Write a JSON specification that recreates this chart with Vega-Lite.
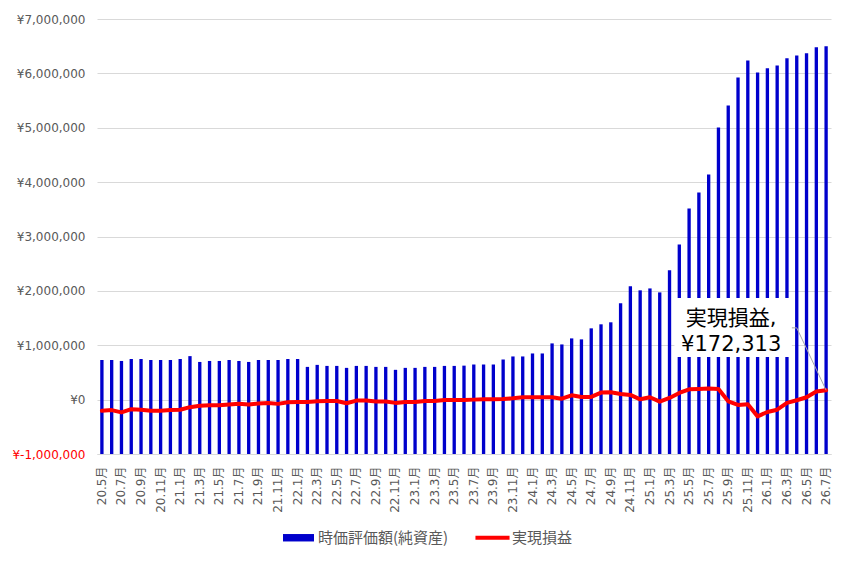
{
  "$schema": "https://vega.github.io/schema/vega-lite/v6.json",
  "description": "時価評価額(純資産)と実現損益の推移",
  "width": 734,
  "height": 435,
  "autosize": {"type": "none"},
  "padding": {"left": 97, "top": 19, "right": 19, "bottom": 109},
  "background": "white",
  "data": {
    "values": [
      {"m": "20.5月", "a": 729000, "r": -205000},
      {"m": "20.6月", "a": 729000, "r": -193000},
      {"m": "20.7月", "a": 711000, "r": -235000},
      {"m": "20.8月", "a": 747000, "r": -175000},
      {"m": "20.9月", "a": 747000, "r": -187000},
      {"m": "20.10月", "a": 729000, "r": -205000},
      {"m": "20.11月", "a": 729000, "r": -205000},
      {"m": "20.12月", "a": 729000, "r": -193000},
      {"m": "21.1月", "a": 747000, "r": -187000},
      {"m": "21.2月", "a": 800000, "r": -139000},
      {"m": "21.3月", "a": 693000, "r": -114000},
      {"m": "21.4月", "a": 711000, "r": -102000},
      {"m": "21.5月", "a": 711000, "r": -102000},
      {"m": "21.6月", "a": 729000, "r": -90000},
      {"m": "21.7月", "a": 711000, "r": -78000},
      {"m": "21.8月", "a": 693000, "r": -90000},
      {"m": "21.9月", "a": 729000, "r": -72000},
      {"m": "21.10月", "a": 729000, "r": -60000},
      {"m": "21.11月", "a": 729000, "r": -78000},
      {"m": "21.12月", "a": 747000, "r": -48000},
      {"m": "22.1月", "a": 747000, "r": -42000},
      {"m": "22.2月", "a": 602000, "r": -42000},
      {"m": "22.3月", "a": 639000, "r": -30000},
      {"m": "22.4月", "a": 620000, "r": -24000},
      {"m": "22.5月", "a": 620000, "r": -24000},
      {"m": "22.6月", "a": 584000, "r": -66000},
      {"m": "22.7月", "a": 620000, "r": -18000},
      {"m": "22.8月", "a": 620000, "r": -18000},
      {"m": "22.9月", "a": 602000, "r": -36000},
      {"m": "22.10月", "a": 602000, "r": -36000},
      {"m": "22.11月", "a": 548000, "r": -60000},
      {"m": "22.12月", "a": 584000, "r": -42000},
      {"m": "23.1月", "a": 584000, "r": -42000},
      {"m": "23.2月", "a": 602000, "r": -24000},
      {"m": "23.3月", "a": 602000, "r": -24000},
      {"m": "23.4月", "a": 620000, "r": -6000},
      {"m": "23.5月", "a": 620000, "r": -6000},
      {"m": "23.6月", "a": 625000, "r": -6000},
      {"m": "23.7月", "a": 646000, "r": 0},
      {"m": "23.8月", "a": 646000, "r": 6000},
      {"m": "23.9月", "a": 646000, "r": 6000},
      {"m": "23.10月", "a": 738000, "r": 12000},
      {"m": "23.11月", "a": 794000, "r": 25000},
      {"m": "23.12月", "a": 794000, "r": 43000},
      {"m": "24.1月", "a": 849000, "r": 43000},
      {"m": "24.2月", "a": 849000, "r": 43000},
      {"m": "24.3月", "a": 1034000, "r": 43000},
      {"m": "24.4月", "a": 1015000, "r": 18000},
      {"m": "24.5月", "a": 1126000, "r": 80000},
      {"m": "24.6月", "a": 1108000, "r": 50000},
      {"m": "24.7月", "a": 1311000, "r": 50000},
      {"m": "24.8月", "a": 1385000, "r": 130000},
      {"m": "24.9月", "a": 1422000, "r": 135000},
      {"m": "24.10月", "a": 1772000, "r": 105000},
      {"m": "24.11月", "a": 2086000, "r": 86000},
      {"m": "24.12月", "a": 2010000, "r": 6000},
      {"m": "25.1月", "a": 2045000, "r": 43000},
      {"m": "25.2月", "a": 1972000, "r": -37000},
      {"m": "25.3月", "a": 2378000, "r": 30000},
      {"m": "25.4月", "a": 2853000, "r": 123000},
      {"m": "25.5月", "a": 3515000, "r": 190000},
      {"m": "25.6月", "a": 3810000, "r": 197000},
      {"m": "25.7月", "a": 4141000, "r": 203000},
      {"m": "25.8月", "a": 5006000, "r": 197000},
      {"m": "25.9月", "a": 5411000, "r": -30000},
      {"m": "25.10月", "a": 5926000, "r": -98000},
      {"m": "25.11月", "a": 6239000, "r": -86000},
      {"m": "25.12月", "a": 6018000, "r": -308000},
      {"m": "26.1月", "a": 6092000, "r": -228000},
      {"m": "26.2月", "a": 6147000, "r": -185000},
      {"m": "26.3月", "a": 6276000, "r": -60000},
      {"m": "26.4月", "a": 6331000, "r": -12000},
      {"m": "26.5月", "a": 6368000, "r": 43000},
      {"m": "26.6月", "a": 6479000, "r": 148000},
      {"m": "26.7月", "a": 6497000, "r": 172313}
    ]
  },
  "encoding": {
    "x": {
      "field": "m",
      "type": "nominal",
      "sort": null,
      "title": null,
      "scale": {"paddingInner": 0, "paddingOuter": 0},
      "axis": {
        "values": ["20.5月", "20.7月", "20.9月", "20.11月", "21.1月", "21.3月", "21.5月", "21.7月", "21.9月", "21.11月",
                   "22.1月", "22.3月", "22.5月", "22.7月", "22.9月", "22.11月", "23.1月", "23.3月", "23.5月", "23.7月",
                   "23.9月", "23.11月", "24.1月", "24.3月", "24.5月", "24.7月", "24.9月", "24.11月", "25.1月", "25.3月",
                   "25.5月", "25.7月", "25.9月", "25.11月", "26.1月", "26.3月", "26.5月", "26.7月"],
        "labelAngle": -90,
        "labelFont": "DejaVu Sans, Noto Sans CJK JP",
        "labelFontSize": 12,
        "labelColor": "#595959",
        "labelPadding": 12,
        "ticks": false,
        "domainColor": "#d9d9d9",
        "grid": false
      }
    }
  },
  "layer": [
    {
      "mark": {"type": "bar", "width": {"band": 0.34}},
      "encoding": {
        "y": {
          "field": "a",
          "type": "quantitative",
          "title": null,
          "scale": {"domain": [-1000000, 7000000], "nice": false, "zero": false},
          "axis": {
            "values": [-1000000, 0, 1000000, 2000000, 3000000, 4000000, 5000000, 6000000, 7000000],
            "labelExpr": "'¥' + replace(format(datum.value, ','), '−', '-')",
            "labelFont": "DejaVu Sans",
            "labelFontSize": 12,
            "labelColor": {"condition": {"test": "datum.value < 0", "value": "#ff0000"}, "value": "#595959"},
            "labelPadding": 12,
            "ticks": false,
            "domain": false,
            "gridColor": "#d9d9d9"
          }
        },
        "y2": {"datum": -1000000},
        "color": {
          "datum": "時価評価額(純資産)",
          "scale": {"domain": ["時価評価額(純資産)", "実現損益"], "range": ["#0000cc", "#ff0000"]},
          "legend": {
            "title": null,
            "orient": "none",
            "direction": "horizontal",
            "legendX": 186,
            "legendY": 503,
            "padding": 0,
            "symbolSize": 961,
            "symbolStrokeWidth": 0,
            "labelFont": "Noto Sans CJK JP",
            "labelFontSize": 15,
            "labelColor": "#595959",
            "labelOffset": 4,
            "columnPadding": 26,
            "encode": {
              "symbols": {
                "update": {
                  "shape": {"signal": "datum.value == '実現損益' ? 'M-1.1,-0.13H1.1V0.13H-1.1Z' : 'M-1,-0.24H1V0.24H-1Z'"},
                  "fill": {"signal": "datum.value == '実現損益' ? '#ff0000' : '#0000cc'"},
                  "stroke": {"value": "transparent"}
                }
              }
            }
          }
        }
      }
    },
    {
      "mark": {"type": "line", "strokeWidth": 4, "strokeJoin": "round", "strokeCap": "round"},
      "encoding": {
        "y": {"field": "r", "type": "quantitative", "title": null},
        "color": {"datum": "実現損益"}
      }
    },
    {
      "data": {
        "values": [
          {"m": "26.3月", "m2": "26.4月", "v": 1320000, "v2": 1320000},
          {"m": "26.4月", "m2": "26.7月", "v": 1320000, "v2": 172313}
        ]
      },
      "mark": {"type": "rule", "color": "#a6a6a6", "strokeWidth": 1},
      "encoding": {
        "x": {"field": "m", "type": "nominal", "sort": null, "title": null},
        "x2": {"field": "m2"},
        "y": {"field": "v", "type": "quantitative", "title": null},
        "y2": {"field": "v2"}
      }
    },
    {
      "data": {"values": [{"m": "25.4月", "m2": "26.3月", "v": 1870000, "v2": 785000}]},
      "mark": {"type": "rect", "color": "white"},
      "encoding": {
        "x": {"field": "m", "type": "nominal", "sort": null, "title": null, "bandPosition": 0},
        "x2": {"field": "m2", "bandPosition": 1},
        "y": {"field": "v", "type": "quantitative", "title": null},
        "y2": {"field": "v2"}
      }
    },
    {
      "data": {"values": [{"m": "25.9月", "v": 1480000, "t": "実現損益,|¥172,313"}]},
      "mark": {
        "type": "text",
        "lineBreak": "|",
        "font": "DejaVu Sans, Noto Sans CJK JP",
        "fontSize": 21,
        "lineHeight": 26,
        "color": "#000000",
        "align": "center",
        "baseline": "middle"
      },
      "encoding": {
        "x": {"field": "m", "type": "nominal", "sort": null, "title": null, "bandPosition": 0.8},
        "y": {"field": "v", "type": "quantitative", "title": null},
        "text": {"field": "t"}
      }
    }
  ],
  "config": {
    "view": {"stroke": null},
    "font": "Noto Sans CJK JP"
  }
}
